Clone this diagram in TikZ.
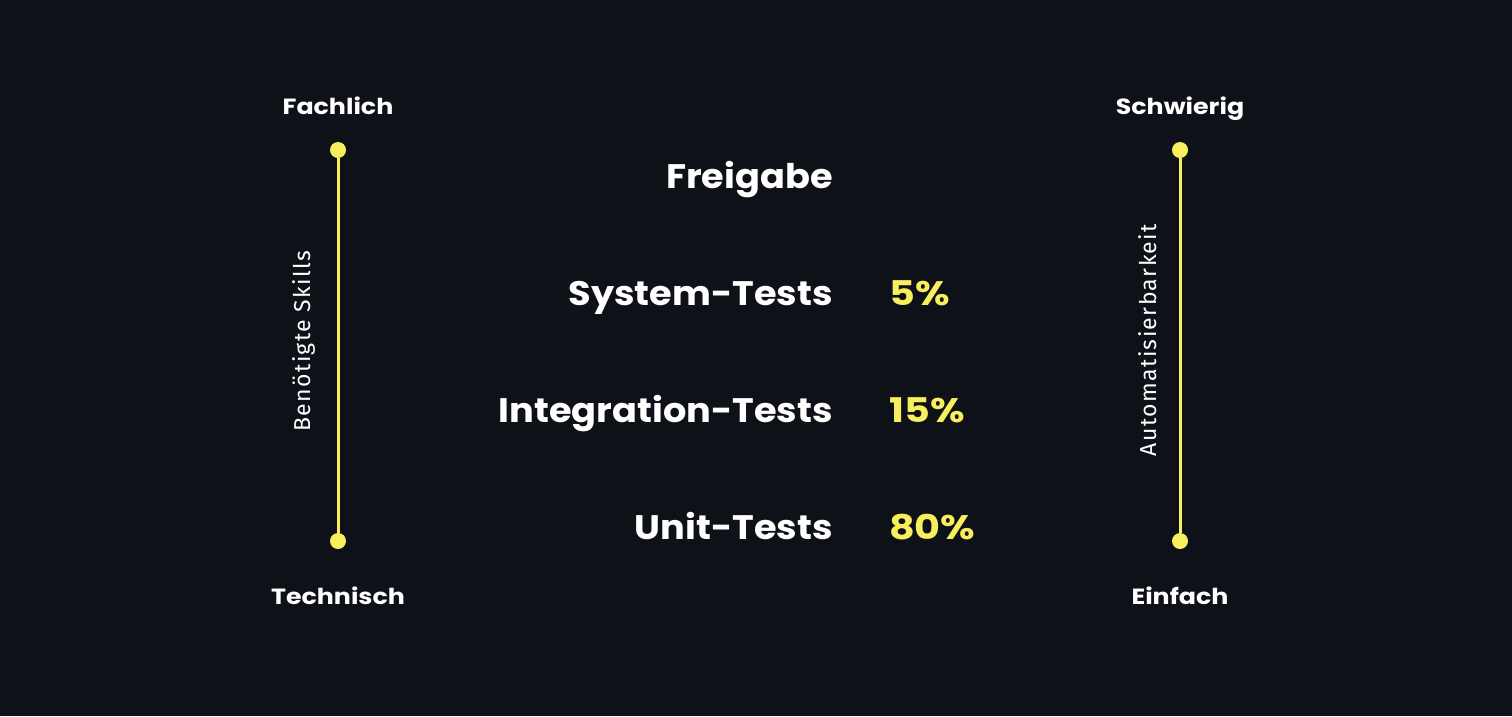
\documentclass[tikz,border=0pt]{standalone}
\usepackage{fontspec}
\setmainfont{Poppins}
\newfontfamily\bigf{Poppins}[FakeStretch=1.08]
\newfontfamily\pctf{Poppins}[FakeStretch=1.17]
\newfontfamily\headf{Poppins}[FakeStretch=1.15]
\newfontfamily\thinf{Fira Sans}[LetterSpace=6]
\definecolor{bg}{HTML}{0E1117}
\definecolor{yel}{HTML}{F7EF5C}
\tikzset{
  big/.style={text=white, font=\bigf\bfseries\fontsize{34}{40}\selectfont, inner sep=0pt},
  pct/.style={text=yel, font=\pctf\bfseries\fontsize{34}{40}\selectfont, inner sep=0pt},
  head/.style={text=white, font=\headf\bfseries\fontsize{22}{26}\selectfont, inner sep=0pt},
  side/.style={text=white, font=\thinf\fontsize{23}{27}\selectfont, inner sep=0pt, rotate=90},
  dot/.style={circle, fill=yel, minimum size=16pt, inner sep=0pt},
  axis/.style={draw=yel, line width=3pt}
}
\begin{document}
\begin{tikzpicture}[x=1pt,y=-1pt]
\fill[bg] (0,0) rectangle (1512,716);
\useasboundingbox (0,0) rectangle (1512,716);
% left axis
\node[dot] (lt) at (338,150) {};
\node[dot] (lb) at (338,541) {};
\draw[axis] (lt) -- (lb);
\node[head, anchor=base] (fach) at (338,114) {Fachlich};
\node[head, anchor=base] (tech) at (338,604) {Technisch};
\node[side] (skills) at (304,341) {Benötigte Skills};
% right axis
\node[dot] (rt) at (1180,150) {};
\node[dot] (rb) at (1180,541) {};
\draw[axis] (rt) -- (rb);
\node[head, anchor=base] (schw) at (1180,114) {Schwierig};
\node[head, anchor=base] (einf) at (1180,604) {Einfach};
\node[side] (auto) at (1148,340) {Automatisierbarkeit};
% center labels
\node[big, anchor=base east] (frei) at (833,188) {Freigabe};
\node[big, anchor=base east] (sys) at (833,305) {System-Tests};
\node[big, anchor=base east] (int) at (833,422) {Integration-Tests};
\node[big, anchor=base east] (unit) at (833,539) {Unit-Tests};
\node[pct, anchor=base west] (p5) at (889,305) {5\%};
\node[pct, anchor=base west] (p15) at (889,422) {15\%};
\node[pct, anchor=base west] (p80) at (889,539) {80\%};
\end{tikzpicture}
\end{document}
